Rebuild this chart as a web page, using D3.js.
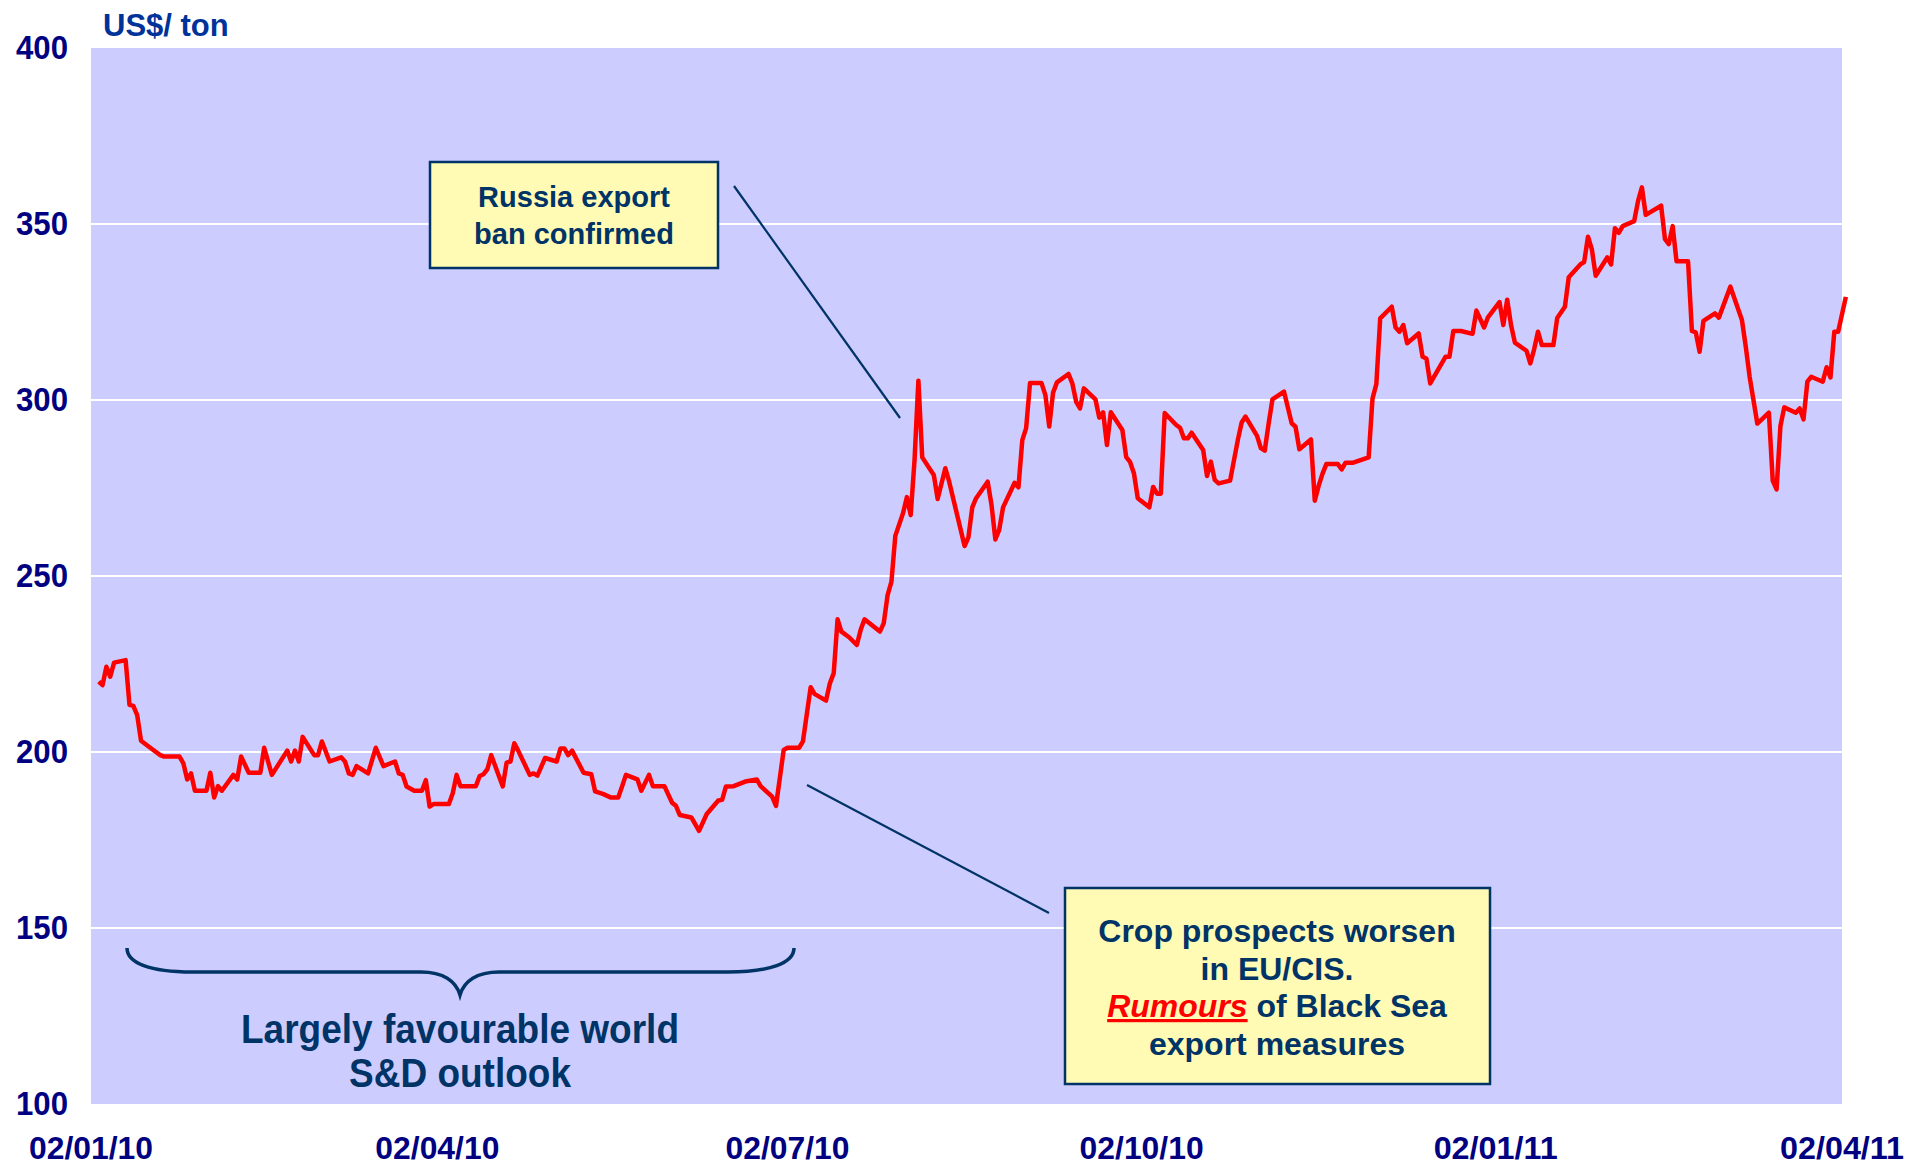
<!DOCTYPE html>
<html><head><meta charset="utf-8">
<script src="https://cdn.jsdelivr.net/npm/d3@7"></script>
<style>html,body{margin:0;padding:0;background:#fff}svg{display:block}</style>
</head><body>
<svg id="chart" width="1909" height="1167"></svg>
<script>
const dates = [
"2010-01-04","2010-01-05","2010-01-06","2010-01-07","2010-01-08","2010-01-11","2010-01-12","2010-01-13","2010-01-14","2010-01-15",
"2010-01-18","2010-01-20","2010-01-21","2010-01-25","2010-01-26","2010-01-27","2010-01-28","2010-01-29","2010-02-01","2010-02-02",
"2010-02-03","2010-02-04","2010-02-05","2010-02-08","2010-02-09","2010-02-10","2010-02-12","2010-02-15","2010-02-16","2010-02-18",
"2010-02-22","2010-02-23","2010-02-24","2010-02-25","2010-02-26","2010-03-01","2010-03-02","2010-03-03","2010-03-05","2010-03-08",
"2010-03-09","2010-03-10","2010-03-11","2010-03-12","2010-03-15","2010-03-17","2010-03-19","2010-03-22","2010-03-23","2010-03-24",
"2010-03-25","2010-03-27","2010-03-29","2010-03-30","2010-03-31","2010-04-01","2010-04-05","2010-04-06","2010-04-07","2010-04-08",
"2010-04-12","2010-04-13","2010-04-14","2010-04-15","2010-04-16","2010-04-19","2010-04-20","2010-04-21","2010-04-22","2010-04-23",
"2010-04-26","2010-04-27","2010-04-28","2010-04-30","2010-05-03","2010-05-04","2010-05-05","2010-05-06","2010-05-07","2010-05-10",
"2010-05-12","2010-05-13","2010-05-15","2010-05-17","2010-05-19","2010-05-20","2010-05-21","2010-05-24","2010-05-25","2010-05-27",
"2010-05-28","2010-05-31","2010-06-02","2010-06-03","2010-06-04","2010-06-07","2010-06-09","2010-06-11","2010-06-14","2010-06-15",
"2010-06-16","2010-06-18","2010-06-21","2010-06-24","2010-06-25","2010-06-28","2010-06-29","2010-07-01","2010-07-02","2010-07-05",
"2010-07-06","2010-07-08","2010-07-09","2010-07-12","2010-07-13","2010-07-14","2010-07-15","2010-07-16","2010-07-18","2010-07-20",
"2010-07-21","2010-07-22","2010-07-26","2010-07-27","2010-07-28","2010-07-29","2010-07-30","2010-08-01","2010-08-02","2010-08-03",
"2010-08-04","2010-08-05","2010-08-06","2010-08-09","2010-08-10","2010-08-12","2010-08-13","2010-08-17","2010-08-18","2010-08-19",
"2010-08-20","2010-08-23","2010-08-24","2010-08-25","2010-08-26","2010-08-27","2010-08-30","2010-08-31","2010-09-01","2010-09-02",
"2010-09-03","2010-09-06","2010-09-07","2010-09-08","2010-09-09","2010-09-10","2010-09-13","2010-09-14","2010-09-15","2010-09-16",
"2010-09-17","2010-09-20","2010-09-21","2010-09-22","2010-09-23","2010-09-24","2010-09-27","2010-09-28","2010-09-29","2010-09-30",
"2010-10-01","2010-10-04","2010-10-05","2010-10-06","2010-10-07","2010-10-08","2010-10-11","2010-10-12","2010-10-13","2010-10-14",
"2010-10-15","2010-10-18","2010-10-19","2010-10-20","2010-10-21","2010-10-22","2010-10-25","2010-10-27","2010-10-28","2010-10-29",
"2010-11-01","2010-11-02","2010-11-03","2010-11-04","2010-11-05","2010-11-08","2010-11-10","2010-11-11","2010-11-12","2010-11-15",
"2010-11-16","2010-11-17","2010-11-18","2010-11-19","2010-11-22","2010-11-23","2010-11-24","2010-11-26","2010-11-30","2010-12-01",
"2010-12-02","2010-12-03","2010-12-06","2010-12-07","2010-12-08","2010-12-09","2010-12-10","2010-12-13","2010-12-14","2010-12-15",
"2010-12-16","2010-12-20","2010-12-21","2010-12-22","2010-12-24","2010-12-27","2010-12-28","2010-12-30","2010-12-31","2011-01-03",
"2011-01-04","2011-01-05","2011-01-06","2011-01-07","2011-01-10","2011-01-11","2011-01-12","2011-01-13","2011-01-14","2011-01-17",
"2011-01-18","2011-01-20","2011-01-21","2011-01-24","2011-01-25","2011-01-26","2011-01-27","2011-01-28","2011-01-31","2011-02-01",
"2011-02-02","2011-02-03","2011-02-04","2011-02-07","2011-02-08","2011-02-09","2011-02-10","2011-02-14","2011-02-15","2011-02-16",
"2011-02-17","2011-02-18","2011-02-21","2011-02-22","2011-02-23","2011-02-24","2011-02-25","2011-02-28","2011-03-01","2011-03-04",
"2011-03-07","2011-03-08","2011-03-09","2011-03-11","2011-03-14","2011-03-15","2011-03-16","2011-03-17","2011-03-18","2011-03-21",
"2011-03-22","2011-03-23","2011-03-24","2011-03-25","2011-03-28","2011-03-29","2011-03-30","2011-03-31","2011-04-01","2011-04-03"
];
const prices = [
220.0,219.0,224.2,221.4,225.4,226.1,213.4,213.1,210.5,203.2,
200.7,199.1,198.7,198.7,196.8,192.2,193.9,189.0,189.0,194.1,
187.1,190.3,189.0,193.5,192.2,198.7,194.1,194.1,201.2,193.5,
200.4,197.3,200.4,197.3,204.3,199.1,199.1,203.0,197.3,198.5,
197.3,193.9,193.5,196.0,193.9,201.2,196.0,197.3,193.9,193.5,
190.2,189.0,189.0,192.0,184.5,185.2,185.2,188.3,193.5,190.3,
190.3,193.2,193.7,195.1,199.1,190.2,197.0,197.3,202.5,200.4,
193.5,193.9,193.3,198.3,197.3,201.0,201.0,199.1,200.4,194.1,
193.7,188.8,188.1,187.1,187.1,190.2,193.5,192.2,189.0,193.5,
190.3,190.3,185.6,184.7,182.1,181.4,177.6,182.4,186.2,186.4,
190.2,190.3,191.6,192.2,190.3,187.3,184.7,200.6,201.2,201.2,
203.0,218.4,216.5,214.6,219.5,222.4,237.7,234.2,232.6,230.4,
234.7,237.7,234.2,236.6,244.6,248.4,261.4,267.8,272.4,267.3,
283.0,305.5,283.7,278.7,271.9,280.6,276.8,258.5,261.0,269.5,
272.1,276.8,270.2,260.4,263.1,269.5,276.5,275.2,288.6,292.0,
304.8,304.8,301.4,292.5,302.1,305.0,307.4,304.7,299.5,297.6,
303.3,300.2,295.0,296.5,287.2,296.5,291.5,283.8,282.4,279.2,
272.1,269.5,275.3,273.4,273.4,296.3,292.9,292.1,289.1,289.1,
290.7,285.8,278.4,282.5,277.3,276.3,277.1,288.6,293.6,295.3,
289.8,286.3,285.6,293.2,300.2,302.4,293.4,292.4,286.0,288.8,
271.4,275.6,279.0,281.8,281.8,280.3,282.2,282.2,283.7,300.4,
304.5,323.2,326.5,320.6,319.4,321.3,316.1,318.9,312.3,311.8,
304.7,312.3,312.3,319.6,319.6,318.8,325.4,320.6,323.5,327.8,
321.3,328.5,321.3,316.3,314.0,310.4,314.4,319.4,315.6,315.6,
323.3,326.5,334.9,338.5,339.2,346.4,342.8,335.3,340.5,338.5,
348.8,347.5,349.4,350.8,356.5,360.4,352.6,355.2,345.7,344.3,
349.4,339.4,339.4,319.6,319.2,313.7,322.5,324.6,323.4,332.2,
322.7,315.1,306.6,293.3,296.4,277.1,274.6,292.6,297.9,296.4,
297.6,294.5,305.2,306.6,305.2,309.3,306.4,319.4,319.4,329.3
];
const yTicks = [100,150,200,250,300,350,400];
const gridTicks = [150,200,250,300,350];
const xTickDates = ["2010-01-02","2010-04-02","2010-07-02","2010-10-02","2011-01-02","2011-04-02"];
const xTickLabels = ["02/01/10","02/04/10","02/07/10","02/10/10","02/01/11","02/04/11"];
const unitLabel = "US$/ ton";
const noteRussia = ["Russia export","ban confirmed"];
const noteCrop = ["Crop prospects worsen","in EU/CIS."];
const noteCropRumour = ["Rumours"," of Black Sea"];
const noteCropLast = "export measures";
const braceLabel = ["Largely favourable world","S&D outlook"];

const parse = d3.timeParse("%Y-%m-%d");
const data = dates.map((d,i)=>({date:parse(d), value:prices[i]}));

const svg = d3.select("#chart");
const L = 91, R = 1842, T = 48, B = 1104;
const x = d3.scaleTime().domain([parse("2010-01-02"), parse("2011-04-02")]).range([L,R]);
const y = d3.scaleLinear().domain([100,400]).range([B,T]);

const FONT = "'Liberation Sans', Arial, Helvetica, sans-serif";

svg.append("rect").attr("x",L).attr("y",T).attr("width",R-L).attr("height",B-T).attr("fill","#CCCCFF");

svg.append("g").selectAll("line").data(gridTicks).join("line")
  .attr("x1",L).attr("x2",R).attr("y1",d=>y(d)).attr("y2",d=>y(d))
  .attr("stroke","#FFFFFF").attr("stroke-width",2);

// y tick labels
svg.append("g").selectAll("text").data(yTicks).join("text")
  .attr("x",68).attr("y",d=>y(d)+11)
  .attr("text-anchor","end").attr("font-family",FONT).attr("font-weight","bold")
  .attr("font-size",34).attr("fill","#000080")
  .attr("textLength",52).attr("lengthAdjust","spacingAndGlyphs")
  .text(d=>d);

// x tick labels
svg.append("g").selectAll("text").data(xTickDates).join("text")
  .attr("x",d=>x(parse(d))).attr("y",1159)
  .attr("text-anchor","middle").attr("font-family",FONT).attr("font-weight","bold")
  .attr("font-size",32).attr("fill","#000080")
  .attr("textLength",124).attr("lengthAdjust","spacingAndGlyphs")
  .text((d,i)=>xTickLabels[i]);

// unit label
svg.append("text").attr("x",103).attr("y",36)
  .attr("font-family",FONT).attr("font-weight","bold").attr("font-size",31)
  .attr("fill","#003399").text(unitLabel);

// price line
const line = d3.line().x(d=>x(d.date)).y(d=>y(d.value));
svg.append("path").datum(data).attr("d",line)
  .attr("fill","none").attr("stroke","#FF0000").attr("stroke-width",4.5)
  .attr("stroke-linejoin","round");

// leader lines
svg.append("line").attr("x1",734).attr("y1",186).attr("x2",900).attr("y2",418)
  .attr("stroke","#003366").attr("stroke-width",2.2);
svg.append("line").attr("x1",807).attr("y1",785).attr("x2",1049).attr("y2",913)
  .attr("stroke","#003366").attr("stroke-width",2.2);

// Russia box
svg.append("rect").attr("x",430).attr("y",162).attr("width",288).attr("height",106)
  .attr("fill","#FFFAB4").attr("stroke","#003366").attr("stroke-width",2.5);
svg.append("g").selectAll("text").data(noteRussia).join("text")
  .attr("x",574).attr("y",(d,i)=>207+i*36.5).attr("text-anchor","middle")
  .attr("font-family",FONT).attr("font-weight","bold").attr("font-size",29)
  .attr("fill","#003366").text(d=>d);

// Crop box
svg.append("rect").attr("x",1065).attr("y",888).attr("width",425).attr("height",196)
  .attr("fill","#FFFAB4").attr("stroke","#003366").attr("stroke-width",2.5);
svg.append("g").selectAll("text").data(noteCrop).join("text")
  .attr("x",1277).attr("y",(d,i)=>942+i*37.5).attr("text-anchor","middle")
  .attr("font-family",FONT).attr("font-weight","bold").attr("font-size",32)
  .attr("fill","#003366").text(d=>d);
const t3 = svg.append("text").attr("x",1277).attr("y",1017).attr("text-anchor","middle")
  .attr("font-family",FONT).attr("font-weight","bold").attr("font-size",32).attr("fill","#003366");
t3.append("tspan").attr("fill","#FF0000").attr("font-style","italic")
  .attr("text-decoration","underline").text(noteCropRumour[0]);
t3.append("tspan").attr("xml:space","preserve").text(noteCropRumour[1]);
svg.append("text").attr("x",1277).attr("y",1055).attr("text-anchor","middle")
  .attr("font-family",FONT).attr("font-weight","bold").attr("font-size",32)
  .attr("fill","#003366").text(noteCropLast);

// brace
svg.append("path")
  .attr("d","M127,948 C127,963 150,972 192,972 L421,972 C443,972 456,981 460,995 C464,981 477,972 499,972 L728,972 C770,972 794,963 794,948")
  .attr("fill","none").attr("stroke","#003366").attr("stroke-width",3.5);
svg.append("g").selectAll("text").data(braceLabel).join("text")
  .attr("x",460).attr("y",(d,i)=>1043+i*44).attr("text-anchor","middle")
  .attr("font-family",FONT).attr("font-weight","bold").attr("font-size",40)
  .attr("fill","#003366")
  .attr("textLength",(d,i)=>i===0?438:222).attr("lengthAdjust","spacingAndGlyphs")
  .text(d=>d);
</script>
</body></html>
